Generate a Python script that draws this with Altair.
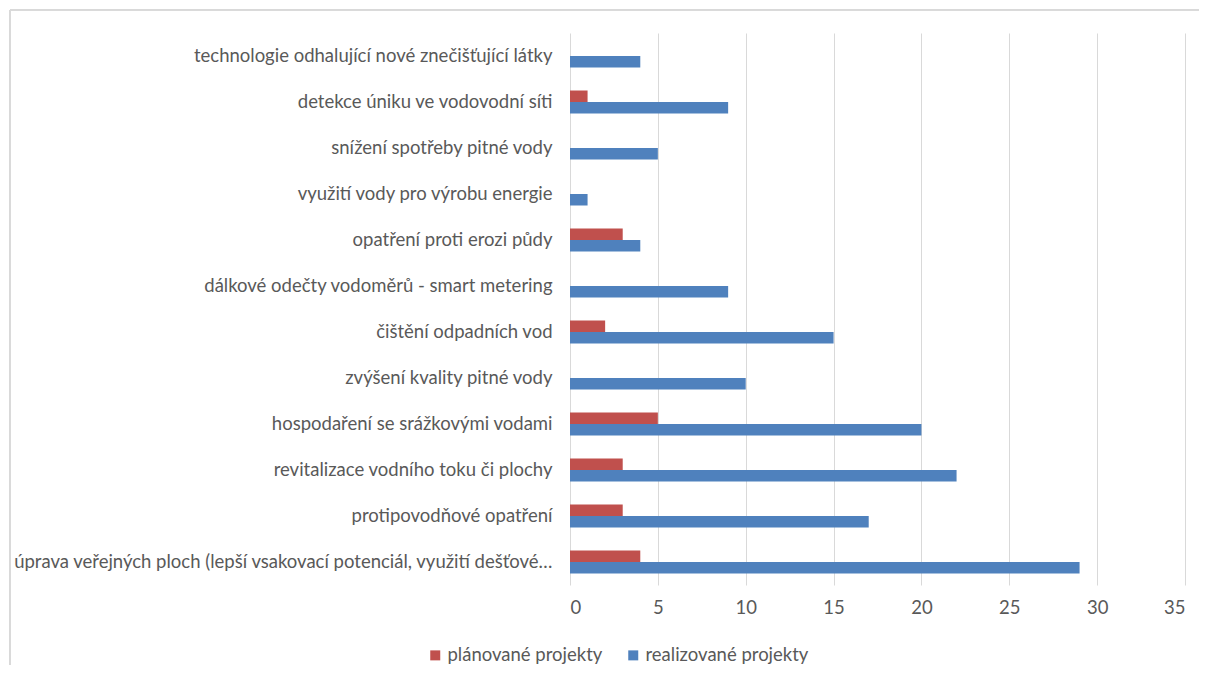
import altair as alt
import pandas as pd

categories = [
    "technologie odhalující nové znečišťující látky",
    "detekce úniku ve vodovodní síti",
    "snížení spotřeby pitné vody",
    "využití vody pro výrobu energie",
    "opatření proti erozi půdy",
    "dálkové odečty vodoměrů - smart metering",
    "čištění odpadních vod",
    "zvýšení kvality pitné vody",
    "hospodaření se srážkovými vodami",
    "revitalizace vodního toku či plochy",
    "protipovodňové opatření",
    "úprava veřejných ploch (lepší vsakovací potenciál, využití dešťové…",
]
planned = [0, 1, 0, 0, 3, 0, 2, 0, 5, 3, 3, 4]
realized = [4, 9, 5, 1, 4, 9, 15, 10, 20, 22, 17, 29]
series_names = ["plánované projekty", "realizované projekty"]
colors = ["#C0504D", "#4F81BD"]
x_ticks = [0, 5, 10, 15, 20, 25, 30, 35]

rows = []
for c, p, r in zip(categories, planned, realized):
    rows.append({"cat": c, "series": series_names[0], "value": p})
    rows.append({"cat": c, "series": series_names[1], "value": r})
df = pd.DataFrame(rows)

FONT = "Lato"
GRAY = "#595959"
FS = 18.5

bars = alt.Chart(df).mark_bar().encode(
    y=alt.Y(
        "cat:N",
        sort=categories,
        scale=alt.Scale(paddingInner=0.5, paddingOuter=0.25),
        axis=alt.Axis(title=None, ticks=False, domain=False, labelFontSize=FS,
                      labelColor=GRAY, labelPadding=18, labelLimit=700, labelFont=FONT),
    ),
    yOffset=alt.YOffset("series:N", sort=series_names),
    x=alt.X(
        "value:Q",
        scale=alt.Scale(domain=[0, 35], nice=False),
        axis=alt.Axis(values=x_ticks, title=None, grid=True, gridColor="#D9D9D9",
                      domain=False, ticks=False, labelPadding=13, labelFontSize=FS,
                      labelColor=GRAY, labelFont=FONT),
    ),
    color=alt.Color(
        "series:N",
        scale=alt.Scale(domain=series_names, range=colors),
        legend=alt.Legend(
            title=None, orient="none", legendX=-144, legendY=613, direction="horizontal",
            symbolType="square", symbolSize=100, symbolStrokeWidth=0,
            labelFontSize=FS, labelColor=GRAY, labelFont=FONT, columnPadding=21,
            labelOffset=3, labelLimit=400,
        ),
    ),
)

frame_top = alt.Chart(df).mark_rule(color="#D9D9D9", strokeWidth=1).encode(
    x=alt.value(-560), x2=alt.value(640), y=alt.value(-23)
)
frame_left = alt.Chart(df).mark_rule(color="#D9D9D9", strokeWidth=1).encode(
    x=alt.value(-560), y=alt.value(-23), y2=alt.value(660)
)

chart = alt.layer(frame_top, frame_left, bars).properties(
    width=615, height=552,
    autosize=alt.AutoSizeParams(type="none"),
    padding={"left": 562, "top": 25, "right": 14, "bottom": 80},
    background="white",
).configure_view(stroke=None)

chart.save("out.html", embed_options={"renderer": "svg", "actions": False})
